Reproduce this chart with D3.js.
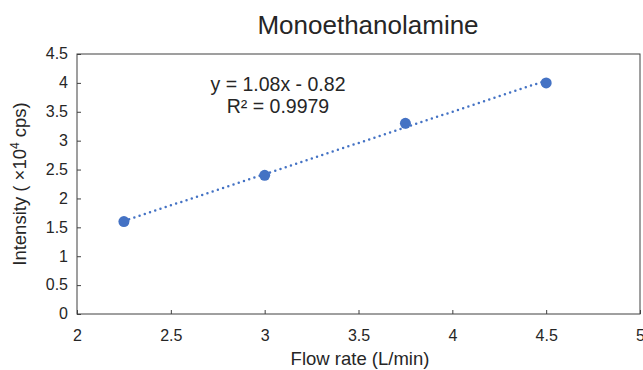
<!DOCTYPE html>
<html lang="en">
<head>
<meta charset="utf-8">
<title>Monoethanolamine</title>
<script src="https://cdn.jsdelivr.net/npm/d3@7"></script>
<style>
  body { margin: 0; background: #fff; }
  text { font-family: "Liberation Sans", Arial, sans-serif; fill: #262626; }
</style>
</head>
<body>
<script>
// data
var flowRate = [2.25, 3, 3.75, 4.5];
var intensity = [1.6, 2.4, 3.3, 4.0];
var xTicks = [2, 2.5, 3, 3.5, 4, 4.5, 5];
var yTicks = [0, 0.5, 1, 1.5, 2, 2.5, 3, 3.5, 4, 4.5];
var fitSlope = 1.08, fitIntercept = -0.82;

var width = 643, height = 370;
var plotL = 77, plotR = 640, plotT = 54, plotB = 314;

var svg = d3.select("body").append("svg")
    .attr("width", width)
    .attr("height", height);

var x = d3.scaleLinear().domain([2, 5]).range([plotL, plotR]);
var y = d3.scaleLinear().domain([0, 4.5]).range([plotB, plotT]);

// plot frame
svg.append("rect")
    .attr("x", plotL).attr("y", plotT)
    .attr("width", plotR - plotL).attr("height", plotB - plotT)
    .attr("fill", "none")
    .attr("stroke", "#404040")
    .attr("stroke-width", 1);

// axes, ticks pointing inward
var xAxis = svg.append("g")
    .attr("transform", "translate(0," + plotB + ")")
    .call(d3.axisTop(x).tickValues(xTicks).tickSize(4).tickFormat(d3.format("")));
xAxis.select(".domain").remove();
xAxis.selectAll("line").attr("stroke", "#404040");
xAxis.selectAll("text")
    .attr("y", 16).attr("dy", "0.71em")
    .style("font-size", "16px").attr("fill", "#262626");

var yAxis = svg.append("g")
    .attr("transform", "translate(" + plotL + ",0)")
    .call(d3.axisRight(y).tickValues(yTicks).tickSize(4).tickFormat(d3.format("")));
yAxis.select(".domain").remove();
yAxis.selectAll("line").attr("stroke", "#404040");
yAxis.selectAll("text")
    .attr("x", -9).attr("dy", "0.3em").attr("text-anchor", "end")
    .style("font-size", "16px").attr("fill", "#262626");

// trendline
var x0 = d3.min(flowRate), x1 = d3.max(flowRate);
svg.append("line")
    .attr("x1", x(x0)).attr("y1", y(fitSlope * x0 + fitIntercept))
    .attr("x2", x(x1)).attr("y2", y(fitSlope * x1 + fitIntercept))
    .attr("stroke", "#4472C4")
    .attr("stroke-width", 2.5)
    .attr("stroke-linecap", "round")
    .attr("stroke-dasharray", "0 5.5");

// points
svg.selectAll("circle.pt")
    .data(flowRate)
    .enter().append("circle")
    .attr("class", "pt")
    .attr("cx", function(d) { return x(d); })
    .attr("cy", function(d, i) { return y(intensity[i]); })
    .attr("r", 5.5)
    .attr("fill", "#4472C4");

// title
svg.append("text")
    .attr("x", 368).attr("y", 34)
    .attr("text-anchor", "middle")
    .style("font-size", "26px")
    .text("Monoethanolamine");

// equation
svg.append("text")
    .attr("x", 278).attr("y", 91)
    .attr("text-anchor", "middle")
    .style("font-size", "19.5px")
    .text("y = 1.08x - 0.82");
svg.append("text")
    .attr("x", 278).attr("y", 113)
    .attr("text-anchor", "middle")
    .style("font-size", "19.5px")
    .text("R\u00b2 = 0.9979");

// axis titles
svg.append("text")
    .attr("x", 360).attr("y", 365)
    .attr("text-anchor", "middle")
    .style("font-size", "18.5px")
    .text("Flow rate (L/min)");

var yt = svg.append("text")
    .attr("transform", "translate(26," + ((plotT + plotB) / 2) + ") rotate(-90)")
    .attr("text-anchor", "middle")
    .style("font-size", "18.5px");
yt.append("tspan").text("Intensity ( \u00d710");
yt.append("tspan").attr("dy", -7).style("font-size", "12px").text("4");
yt.append("tspan").attr("dy", 7).text(" cps)");
</script>
</body>
</html>
